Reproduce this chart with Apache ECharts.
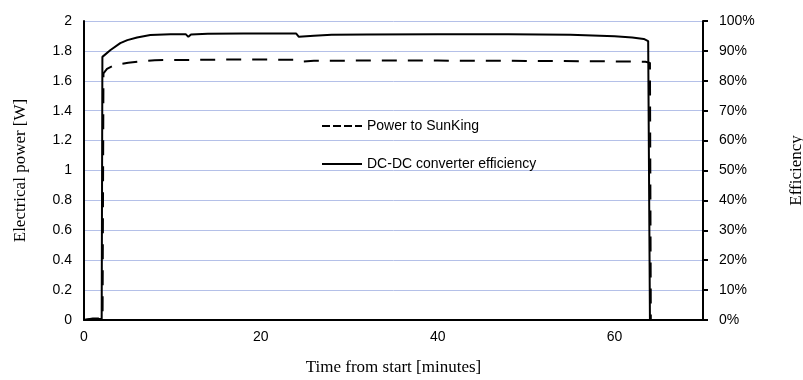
<!DOCTYPE html>
<html>
<head>
<meta charset="utf-8">
<script src="https://cdn.jsdelivr.net/npm/echarts@6/dist/echarts.min.js"></script>
<style>
  html, body { margin: 0; padding: 0; background: #fff; }
  #chart { width: 803px; height: 380px; }
</style>
</head>
<body>
<div id="chart"></div>
<script>
// Power to SunKing (left axis, W)
const powerTime = [0, 1, 2.1, 2.2, 2.6, 3.5, 5, 6.5, 8, 12, 16, 20, 24, 24.5, 26, 30, 40, 50, 60, 63.5, 64.0, 64.1];
const powerW    = [0, 0.01, 0.01, 1.65, 1.68, 1.706, 1.72, 1.73, 1.738, 1.74, 1.742, 1.742, 1.74, 1.728, 1.734, 1.735, 1.735, 1.733, 1.73, 1.728, 1.72, 0];

// DC-DC converter efficiency (right axis, %)
const effTime = [0, 1, 2.0, 2.08, 3, 4.1, 4.9, 6, 7.5, 9.8, 11.5, 11.8, 12.1, 14, 18, 22, 24, 24.3, 26, 28, 32, 40, 48, 55, 60, 62, 63.3, 63.8, 64.0];
const effPct  = [0, 0.3, 0.3, 88, 90.3, 92.6, 93.6, 94.5, 95.3, 95.6, 95.6, 94.7, 95.5, 95.7, 95.8, 95.8, 95.8, 94.7, 95.1, 95.4, 95.5, 95.6, 95.6, 95.4, 94.9, 94.5, 94.0, 93.3, 0];

const seriesNames = ['Power to SunKing', 'DC-DC converter efficiency'];

const sans = 'Liberation Sans';
const serif = 'Liberation Serif';

const chart = echarts.init(document.getElementById('chart'));

chart.setOption({
  animation: false,
  backgroundColor: '#fff',
  grid: { left: 84, right: 100, top: 21, bottom: 60, containLabel: false, outerBoundsMode: 'none' },
  legend: {
    orient: 'vertical',
    left: 316,
    top: 114,
    itemWidth: 40,
    itemHeight: 14,
    itemGap: 24,
    itemStyle: { opacity: 0 },
    data: [
      { name: seriesNames[0], lineStyle: { type: [8, 3], width: 2, color: '#000' } },
      { name: seriesNames[1], lineStyle: { type: 'solid', width: 2, color: '#000' } }
    ],
    textStyle: { fontFamily: sans, fontSize: 14, color: '#000' }
  },
  xAxis: {
    type: 'value',
    min: 0,
    max: 70,
    interval: 20,
    name: 'Time from start [minutes]',
    nameLocation: 'middle',
    nameGap: 39,
    nameTextStyle: { fontFamily: serif, fontSize: 17, color: '#000' },
    axisLine: { lineStyle: { color: '#000', width: 2 } },
    axisTick: { show: false },
    splitLine: { show: false },
    axisLabel: { showMaxLabel: false, fontFamily: sans, fontSize: 14, color: '#000', margin: 10 }
  },
  yAxis: [
    {
      type: 'value',
      min: 0,
      max: 2,
      interval: 0.2,
      name: 'Electrical power [W]',
      nameLocation: 'middle',
      nameRotate: 90,
      nameGap: 55,
      nameTextStyle: { fontFamily: serif, fontSize: 17, color: '#000' },
      axisLine: { show: true, lineStyle: { color: '#000', width: 2 } },
      axisTick: { show: false },
      splitLine: { show: true, lineStyle: { color: '#b4c0e8', width: 1 } },
      axisLabel: { fontFamily: sans, fontSize: 14, color: '#000', margin: 12 }
    },
    {
      type: 'value',
      position: 'right',
      min: 0,
      max: 100,
      interval: 10,
      name: 'Efficiency',
      nameLocation: 'middle',
      nameRotate: 90,
      nameGap: 85,
      nameTextStyle: { fontFamily: serif, fontSize: 17, color: '#000' },
      axisLine: { show: true, lineStyle: { color: '#000', width: 2 } },
      axisTick: { show: true, length: 5, lineStyle: { color: '#000', width: 2 } },
      splitLine: { show: false },
      axisLabel: { formatter: '{value}%', fontFamily: sans, fontSize: 14, color: '#000', margin: 16 }
    }
  ],
  series: [
    {
      name: seriesNames[0],
      type: 'line',
      yAxisIndex: 0,
      symbol: 'none',
      data: powerTime.map((t, i) => [t, powerW[i]]),
      itemStyle: { color: '#000' },
      lineStyle: { color: '#000', width: 2, type: [15, 11] },
      z: 3
    },
    {
      name: seriesNames[1],
      type: 'line',
      yAxisIndex: 1,
      symbol: 'none',
      data: effTime.map((t, i) => [t, effPct[i]]),
      itemStyle: { color: '#000' },
      lineStyle: { color: '#000', width: 2 },
      z: 4
    }
  ]
});
</script>
</body>
</html>
